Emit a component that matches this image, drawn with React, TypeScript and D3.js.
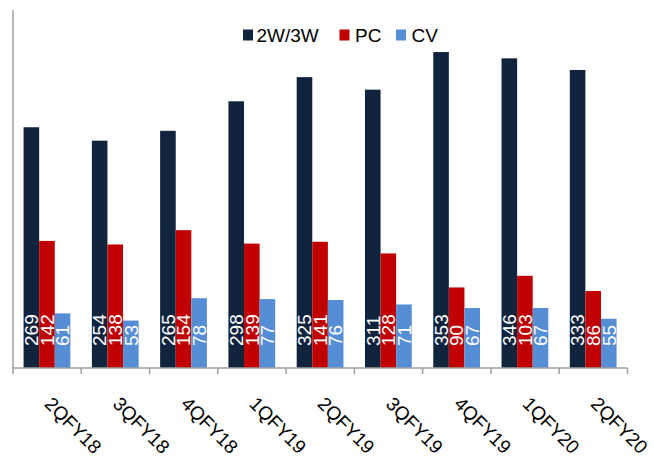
import React from "react";
import * as d3 from "d3";

const categories = ["2QFY18", "3QFY18", "4QFY18", "1QFY19", "2QFY19", "3QFY19", "4QFY19", "1QFY20", "2QFY20"];
const seriesNames = ["2W/3W", "PC", "CV"];
const twoWheeler = [269, 254, 265, 298, 325, 311, 353, 346, 333];
const pc = [142, 138, 154, 139, 141, 128, 90, 103, 86];
const cv = [61, 53, 78, 77, 76, 71, 67, 67, 55];
const colors = ["#10243E", "#C00000", "#558ED5"];

const W = 654;
const H = 457;
const FONT = "'Liberation Sans', Arial, Helvetica, sans-serif";

export default function App() {
  const series = [twoWheeler, pc, cv];
  const x0 = d3.scaleBand<string>().domain(categories).range([13, 627.5]).padding(0);
  const bw = x0.bandwidth();
  const x1 = d3.scaleBand<string>().domain(seriesNames).range([bw * 0.155, bw * 0.84]).padding(0);
  const y = d3.scaleLinear().domain([0, 400]).range([368, 10]);
  const baseY = y(0);
  const labelFont = 19;
  const capH = labelFont * 0.716;

  const legendItems = [
    { name: seriesNames[0], sq: 243, tx: 256.5 },
    { name: seriesNames[1], sq: 339.5, tx: 355 },
    { name: seriesNames[2], sq: 396, tx: 411.5 },
  ];

  return (
    <svg width={W} height={H} style={{ position: "absolute", left: 0, top: 0, background: "#fff" }} fontFamily={FONT}>
      {/* bars */}
      {categories.map((c, i) => (
        <g key={c} transform={`translate(${x0(c)},0)`}>
          {series.map((s, k) => {
            const bx = x1(seriesNames[k])!;
            const w = x1.bandwidth();
            return (
              <rect key={k} x={bx} y={y(s[i])} width={w} height={baseY - y(s[i])} fill={colors[k]} />
            );
          })}
          {series.map((s, k) => {
            const cx = x1(seriesNames[k])! + x1.bandwidth() / 2 + capH / 2;
            return (
              <text
                key={"l" + k}
                transform={`translate(${cx},${baseY - 22}) rotate(-90)`}
                textAnchor="start"
                fontSize={labelFont}
                fill="#fff"
              >
                {s[i]}
              </text>
            );
          })}
        </g>
      ))}
      {/* y axis */}
      <line x1={13} x2={13} y1={10} y2={baseY} stroke="#a0a0a0" strokeWidth={1.5} />
      {/* x axis */}
      <line x1={13} x2={627.5} y1={baseY} y2={baseY} stroke="#a0a0a0" strokeWidth={1.5} />
      {d3.range(categories.length + 1).map((i) => {
        const tx = 13 + i * bw;
        return <line key={i} x1={tx} x2={tx} y1={baseY} y2={baseY + 6} stroke="#a0a0a0" strokeWidth={1.5} />;
      })}
      {categories.map((c) => {
        const cx = x0(c)! + bw / 2;
        return (
          <text key={c} transform={`translate(${cx - 3.7},${405}) rotate(45)`} fontSize={19} fill="#000">
            {c}
          </text>
        );
      })}
      {/* legend */}
      {legendItems.map((it, k) => (
        <g key={it.name}>
          <rect x={it.sq} y={29.5} width={10} height={11} fill={colors[k]} />
          <text x={it.tx} y={41.5} fontSize={19} fill="#000">
            {it.name}
          </text>
        </g>
      ))}
    </svg>
  );
}
